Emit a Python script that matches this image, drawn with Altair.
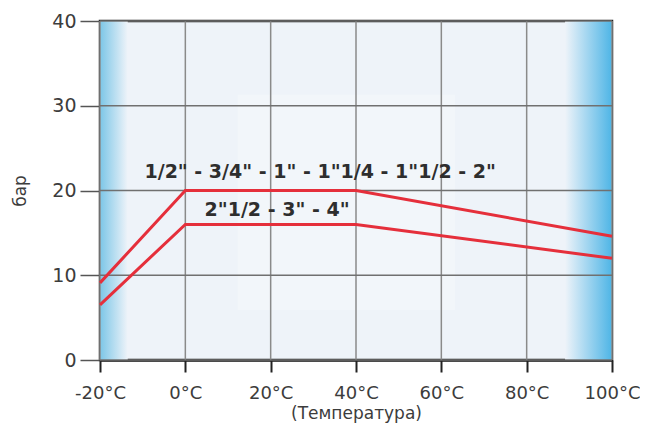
import altair as alt
import pandas as pd

temps_upper = [-20, 0, 40, 100]
bar_upper = [9.1, 20, 20, 14.6]
temps_lower = [-20, 0, 40, 100]
bar_lower = [6.5, 16, 16, 12.0]
series_labels = ['1/2" - 3/4" - 1" - 1"1/4 - 1"1/2 - 2"', '2"1/2 - 3" - 4"']
label_x = [31.6, 21.5]
label_y = [22.2, 17.7]
x_ticks = [-20, 0, 20, 40, 60, 80, 100]
y_ticks = [0, 10, 20, 30, 40]

lines_df = pd.DataFrame({
    "t": temps_upper + temps_lower,
    "p": bar_upper + bar_lower,
    "s": ["a"] * len(temps_upper) + ["b"] * len(temps_lower),
})
labels_df = pd.DataFrame({"t": label_x, "p": label_y, "txt": series_labels})

xs = alt.Scale(domain=[-20, 100], nice=False)
ys = alt.Scale(domain=[0, 40], nice=False)

BG = "#eef3f9"
left_df = pd.DataFrame({"x": [-20], "x2": [-13.5], "y": [0], "y2": [40]})
right_df = pd.DataFrame({"x": [89], "x2": [100], "y": [0], "y2": [40]})
mid_df = pd.DataFrame({"x": [12.3], "x2": [63.2], "y": [5.9], "y2": [31.3]})

left = alt.Chart(left_df).mark_rect(
    color=alt.Gradient(gradient="linear", x1=0, x2=1, y1=0, y2=0,
                       stops=[alt.GradientStop(color="#7cc6e7", offset=0),
                              alt.GradientStop(color=BG, offset=1)])
).encode(x=alt.X("x:Q", scale=xs), x2="x2", y=alt.Y("y:Q", scale=ys), y2="y2")

right = alt.Chart(right_df).mark_rect(
    color=alt.Gradient(gradient="linear", x1=0, x2=1, y1=0, y2=0,
                       stops=[alt.GradientStop(color=BG, offset=0),
                              alt.GradientStop(color="#4eb5e6", offset=1)])
).encode(x=alt.X("x:Q", scale=xs), x2="x2", y=alt.Y("y:Q", scale=ys), y2="y2")

mid = alt.Chart(mid_df).mark_rect(color="#f2f6fa").encode(
    x=alt.X("x:Q", scale=xs), x2="x2", y=alt.Y("y:Q", scale=ys), y2="y2")

vgrid = alt.Chart(pd.DataFrame({"t": x_ticks})).mark_rule(color="#8a8a8a", strokeWidth=1.5).encode(
    x=alt.X("t:Q", scale=xs))
hgrid = alt.Chart(pd.DataFrame({"p": y_ticks})).mark_rule(color="#707070", strokeWidth=1.5).encode(
    y=alt.Y("p:Q", scale=ys))

axis_font = "DejaVu Sans"

base_axes = alt.Chart(pd.DataFrame({"t": [0], "p": [0]})).mark_point(opacity=0).encode(
    x=alt.X("t:Q", scale=xs, title="(Температура)",
            axis=alt.Axis(values=x_ticks, labelExpr="datum.value + '°C'",
                          grid=False, labelFlush=False, labelOverlap=False,
                          domainColor="#222222", domainWidth=2.5,
                          tickColor="#222222", tickWidth=2, tickSize=12,
                          labelFontSize=18, labelColor="#3c3c3c", labelFont=axis_font,
                          labelPadding=12, titleFont=axis_font, titleFontSize=17,
                          titleFontWeight="normal", titleColor="#3c3c3c", titlePadding=3)),
    y=alt.Y("p:Q", scale=ys, title="бар",
            axis=alt.Axis(values=y_ticks, grid=False, labelFlush=False,
                          domainColor="#222222", domainWidth=2.5,
                          tickColor="#555555", tickWidth=1.5, tickSize=20,
                          labelFontSize=19, labelColor="#3c3c3c", labelFont=axis_font,
                          labelPadding=4, titleFont=axis_font, titleFontSize=17,
                          titleFontWeight="normal", titleColor="#3c3c3c", titlePadding=22)),
)

lines = alt.Chart(lines_df).mark_line(color="#e52f3b", strokeWidth=3).encode(
    x=alt.X("t:Q", scale=xs), y=alt.Y("p:Q", scale=ys), detail="s:N")

labels = alt.Chart(labels_df).mark_text(
    fontSize=19, fontWeight="bold", color="#2e2e2e", font="DejaVu Sans"
).encode(x=alt.X("t:Q", scale=xs), y=alt.Y("p:Q", scale=ys), text="txt:N")

chart = alt.layer(mid, left, right, vgrid, hgrid, base_axes, lines, labels).properties(
    width=512, height=339,
    autosize=alt.AutoSizeParams(type="none"),
    padding={"left": 92, "top": 13, "right": 28, "bottom": 68},
).configure(
    background="white",
    view=alt.ViewConfig(fill=BG, stroke="#222222", strokeWidth=2.5),
)

chart.save("out.html", embed_options={"renderer": "svg", "actions": False})
